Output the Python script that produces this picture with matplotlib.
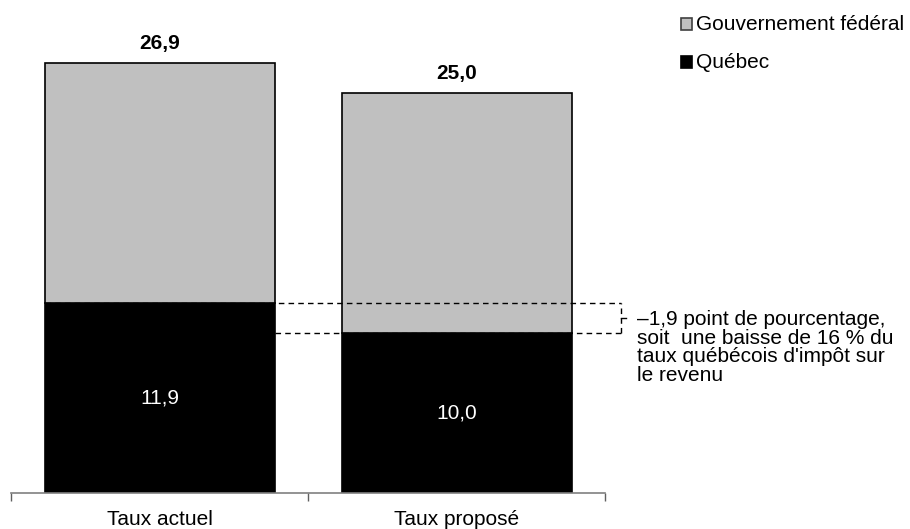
import matplotlib
matplotlib.use('Agg')
import matplotlib.pyplot as plt
from matplotlib.patches import Rectangle
from matplotlib.lines import Line2D

categories = ['Taux actuel', 'Taux proposé']
quebec = [11.9, 10.0]
federal = [15.0, 15.0]
totals = [26.9, 25.0]
quebec_labels = ['11,9', '10,0']
total_labels = ['26,9', '25,0']
series_names = ['Gouvernement fédéral', 'Québec']
note = "–1,9 point de pourcentage,\nsoit  une baisse de 16 % du\ntaux québécois d'impôt sur\nle revenu"

plt.rcParams['font.family'] = ['Liberation Sans', 'DejaVu Sans']
FS = 15
W, H = 910, 529
fig = plt.figure(figsize=(W / 100, H / 100), dpi=100)
ax = fig.add_axes([11 / W, 36 / H, 594 / W, 480 / H])

x = list(range(len(categories)))
bw = 230 / 297
ax.bar(x, quebec, bw, color='black', edgecolor='black', linewidth=1.2, zorder=2)
ax.bar(x, federal, bw, bottom=quebec, color='#c0c0c0', edgecolor='black', linewidth=1.2, zorder=2)
ax.set_xlim(-0.5, 1.5)
ax.set_ylim(0, 30)

for xi, t, lab in zip(x, totals, total_labels):
    ax.annotate(lab, (xi, t), xytext=(0, 10), textcoords='offset pixels',
                ha='center', va='bottom', fontsize=FS, fontweight='bold')
for xi, q, lab in zip(x, quebec, quebec_labels):
    ax.text(xi, q / 2, lab, ha='center', va='center', fontsize=FS, color='white')

# axes styling
for s in ['top', 'right', 'left']:
    ax.spines[s].set_visible(False)
ax.spines['bottom'].set_color('#808080')
ax.spines['bottom'].set_linewidth(1.2)
ax.set_yticks([])
ax.set_xticks([-0.5, 0.5, 1.5])
ax.set_xticklabels([])
ax.tick_params(axis='x', which='major', length=6, width=1, color='#606060', direction='out')
ax.set_xticks(x, minor=True)
ax.set_xticklabels(categories, minor=True, fontsize=FS)
ax.tick_params(axis='x', which='minor', length=0, pad=12)

# dashed difference bracket
def px2x(px):
    return (px - 11) / 297 - 0.5

xb = px2x(621)
dash = dict(color='black', linewidth=1.0, linestyle=(0, (4, 3)), clip_on=False, zorder=3)
ax.add_line(Line2D([x[0] - bw / 2, xb], [quebec[0], quebec[0]], **dash))
ax.add_line(Line2D([x[0] + bw / 2, xb], [quebec[1], quebec[1]], **dash))
ax.add_line(Line2D([xb, xb], [quebec[1], quebec[0]], **dash))
ym = (quebec[0] + quebec[1]) / 2
ax.add_line(Line2D([xb, px2x(626)], [ym, ym], color='black', linewidth=1.0, clip_on=False))

fig.text(637 / W, 1 - 310 / H, note, ha='left', va='top', fontsize=FS, linespacing=0.98)

# legend (manual)
leg_items = [(series_names[0], '#c0c0c0', '#404040', 24), (series_names[1], 'black', 'black', 62)]
for name, fc, ec, yc in leg_items:
    fig.patches.append(Rectangle((681 / W, 1 - (yc + 6) / H), 11 / W, 12 / H,
                                 transform=fig.transFigure, facecolor=fc, edgecolor=ec,
                                 linewidth=1.2))
    fig.text(696 / W, 1 - yc / H, name, ha='left', va='center', fontsize=FS)

fig.savefig('out.png', dpi=100)
